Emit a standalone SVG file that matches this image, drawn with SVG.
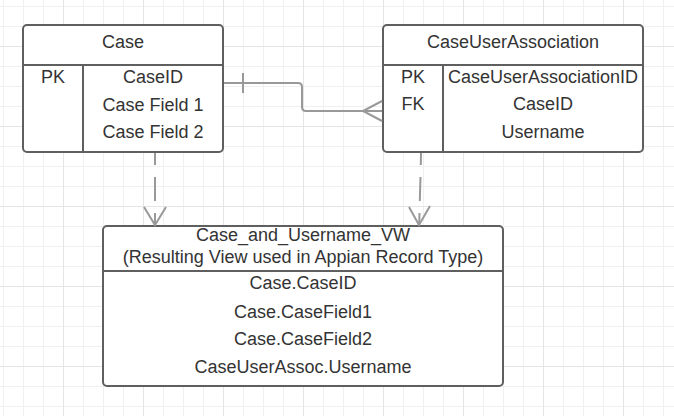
<svg xmlns="http://www.w3.org/2000/svg" width="674" height="416" viewBox="0 0 674 416">
  <defs>
    <pattern id="grid" patternUnits="userSpaceOnUse" x="63" y="46" width="80" height="80">
      <path d="M20.5 0V80M40.5 0V80M60.5 0V80M0 20.5H80M0 40.5H80M0 60.5H80" stroke="#f0f0f0" stroke-width="1" fill="none"/>
      <path d="M0.5 0V80M0 0.5H80" stroke="#e5e5e5" stroke-width="1" fill="none"/>
    </pattern>
  </defs>
  <style>
    .box { fill: #ffffff; stroke: #5f5f5f; stroke-width: 2; }
    .div { stroke: #5f5f5f; stroke-width: 2; fill: none; }
    .t { font-family: "Liberation Sans", Arial, sans-serif; font-size: 18px; fill: #333333; text-anchor: middle; }
    .con { stroke: #999999; stroke-width: 2; fill: none; }
  </style>
  <rect x="0" y="0" width="674" height="416" fill="#ffffff"/>
  <rect x="0" y="0" width="674" height="416" fill="url(#grid)"/>

  <g id="case">
    <rect class="box" x="23" y="25" width="200" height="127" rx="4"/>
    <path class="div" d="M23 65H223M83 65V152"/>
    <text class="t" x="123" y="48">Case</text>
    <text class="t" x="53" y="83">PK</text>
    <text class="t" x="153" y="83">CaseID</text>
    <text class="t" x="153" y="111">Case Field 1</text>
    <text class="t" x="153" y="138">Case Field 2</text>
  </g>

  <g id="caseUserAssociation">
    <rect class="box" x="383" y="25" width="260" height="127" rx="4"/>
    <path class="div" d="M383 65H643M443 65V152"/>
    <text class="t" x="513" y="48">CaseUserAssociation</text>
    <text class="t" x="413" y="83">PK</text>
    <text class="t" x="413" y="110">FK</text>
    <text class="t" x="543" y="83">CaseUserAssociationID</text>
    <text class="t" x="543" y="110">CaseID</text>
    <text class="t" x="543" y="138">Username</text>
  </g>

  <g id="caseAndUsernameVW">
    <rect class="box" x="103" y="226" width="400" height="160" rx="4"/>
    <path class="div" d="M103 271H503"/>
    <text class="t" x="303" y="241">Case_and_Username_VW</text>
    <text class="t" x="303" y="263">(Resulting View used in Appian Record Type)</text>
    <text class="t" x="303" y="289">Case.CaseID</text>
    <text class="t" x="303" y="318">Case.CaseField1</text>
    <text class="t" x="303" y="345">Case.CaseField2</text>
    <text class="t" x="303" y="373">CaseUserAssoc.Username</text>
  </g>

  <g id="connectors">
    <path class="con" d="M224 83H298Q302 83 302 87V107Q302 111 306 111H382"/>
    <path class="con" d="M243 73V93"/>
    <path class="con" d="M382 101L363 111L382 121"/>
    <path class="con" d="M155 153V165M155 177V201M155 213V224"/>
    <path class="con" d="M144 207L155 225L166 207"/>
    <path class="con" d="M421 153L420.8 165M420.5 177L419.8 201M419.5 213L419.2 224"/>
    <path class="con" d="M409 207L419 225L430 206"/>
  </g>
</svg>
